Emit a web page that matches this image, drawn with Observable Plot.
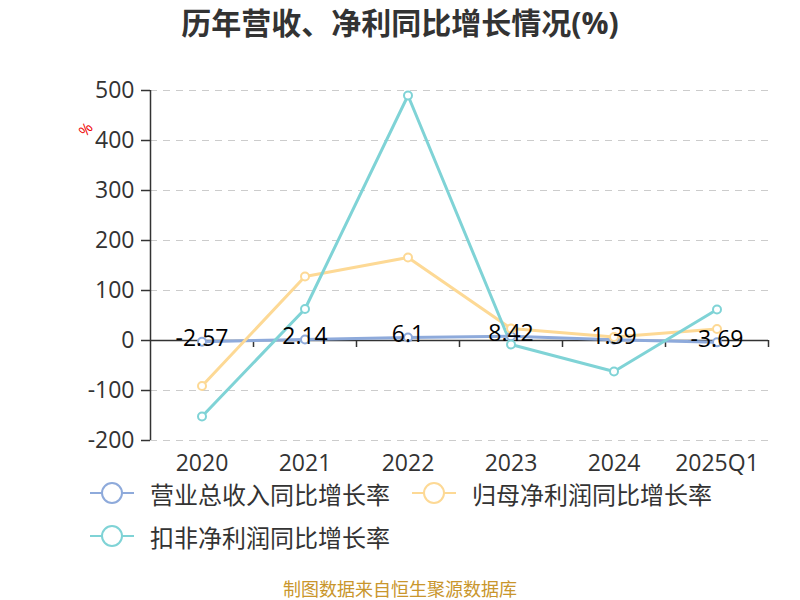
<!DOCTYPE html>
<html>
<head>
<meta charset="utf-8">
<script src="https://cdn.jsdelivr.net/npm/d3@7"></script>
<script src="https://cdn.jsdelivr.net/npm/@observablehq/plot@0.6"></script>
<style>
  body { margin: 0; background: #fff; }
  #wrap { position: relative; width: 800px; height: 600px; font-family: "Open Sans", "Noto Sans CJK SC", sans-serif; color: #333; overflow: hidden; }
  #title { position: absolute; left: 0; top: 1px; width: 800px; height: 44px; line-height: 44px; text-align: center; font-size: 30px; font-weight: bold; color: #333; }
  #chart { position: absolute; left: 0; top: 50px; }
  #unit { position: absolute; left: 79px; top: 119px; font-size: 15px; color: #e00; transform: rotate(-50deg); transform-origin: center; }
  .leg { position: absolute; display: flex; align-items: center; height: 30px; font-size: 24px; color: #333; white-space: nowrap; }
  .leg svg { margin-right: 16px; }
  #caption { position: absolute; left: 0; top: 578px; width: 800px; text-align: center; font-size: 18px; color: #c9962c; line-height: 22px; }
</style>
</head>
<body>
<div id="wrap">
  <div id="title">历年营收、净利同比增长情况(%)</div>
  <div id="chart"></div>
  <div id="unit">%</div>
  <div id="legend"></div>
  <div id="caption">制图数据来自恒生聚源数据库</div>
</div>
<script>
const categories = ["2020", "2021", "2022", "2023", "2024", "2025Q1"];
const seriesNames = ["营业总收入同比增长率", "归母净利润同比增长率", "扣非净利润同比增长率"];
const revenueGrowth = [-2.57, 2.14, 6.1, 8.42, 1.39, -3.69];
const netProfitGrowth = [-91, 128, 166, 24, 7, 23];
const deductedProfitGrowth = [-152, 63, 490, -8, -62, 62];
const yTicks = [-200, -100, 0, 100, 200, 300, 400, 500];
const colors = ["#8eaadb", "#fdd995", "#7fd3d6"];

const idx = d3.range(categories.length);
const toRows = vals => vals.map((v, i) => ({i, v}));
const series = [revenueGrowth, netProfitGrowth, deductedProfitGrowth].map(toRows);
const boundaries = d3.range(categories.length + 1).map(k => k - 0.5);

const font = "Open Sans, Noto Sans CJK SC, sans-serif";

const marks = [
  Plot.ruleY(yTicks.filter(t => t !== 0), {y: d => d, x1: -0.5, x2: categories.length - 0.5, stroke: "#ccc", strokeWidth: 1.2, strokeDasharray: "7,6"}),
  Plot.axisY(yTicks, {anchor: "left", tickSize: 9, tickPadding: 7, fontSize: 23, fill: "#333", stroke: "#333", strokeWidth: 1.5, tickFormat: d => String(d), label: null}),
  Plot.ruleX([-0.5], {y1: -200, y2: 500, stroke: "#333", strokeWidth: 1.5}),
  Plot.ruleY([0], {x1: -0.5, x2: categories.length - 0.5, stroke: "#333", strokeWidth: 1.5}),
  Plot.ruleX(boundaries.slice(1), {x: d => d, y1: 0, y2: -14, stroke: "#333", strokeWidth: 1.5}),
  Plot.axisX(idx, {anchor: "bottom", tickSize: 0, tickPadding: 14, fontSize: 23, fill: "#333", tickFormat: i => categories[i], label: null})
];
series.forEach((rows, k) => {
  marks.push(Plot.line(rows, {x: "i", y: "v", stroke: colors[k], strokeWidth: 3}));
});
series.forEach((rows, k) => {
  marks.push(Plot.dot(rows, {x: "i", y: "v", r: 4, fill: "white", stroke: colors[k], strokeWidth: 2}));
});
marks.push(Plot.text(series[0], {x: "i", y: "v", text: d => String(d.v), fontSize: 23, fill: "#000", dy: -3}));

const chart = Plot.plot({
  width: 800,
  height: 430,
  marginLeft: 150,
  marginRight: 32,
  marginTop: 40,
  marginBottom: 40,
  style: {fontFamily: font, background: "transparent", overflow: "visible"},
  x: {type: "linear", domain: [-0.5, categories.length - 0.5], axis: null},
  y: {domain: [-200, 500], axis: null},
  marks
});
document.getElementById("chart").appendChild(chart);

// legend
const legendPos = [[90, 478], [412, 478], [90, 521]];
const legend = document.getElementById("legend");
seriesNames.forEach((name, k) => {
  const item = document.createElement("div");
  item.className = "leg";
  item.style.left = legendPos[k][0] + "px";
  item.style.top = legendPos[k][1] + "px";
  item.innerHTML = `<svg width="44" height="24"><line x1="0" y1="12" x2="44" y2="12" stroke="${colors[k]}" stroke-width="2"/><circle cx="22" cy="12" r="10" fill="white" stroke="${colors[k]}" stroke-width="2"/></svg><span>${name}</span>`;
  legend.appendChild(item);
});
</script>
</body>
</html>
